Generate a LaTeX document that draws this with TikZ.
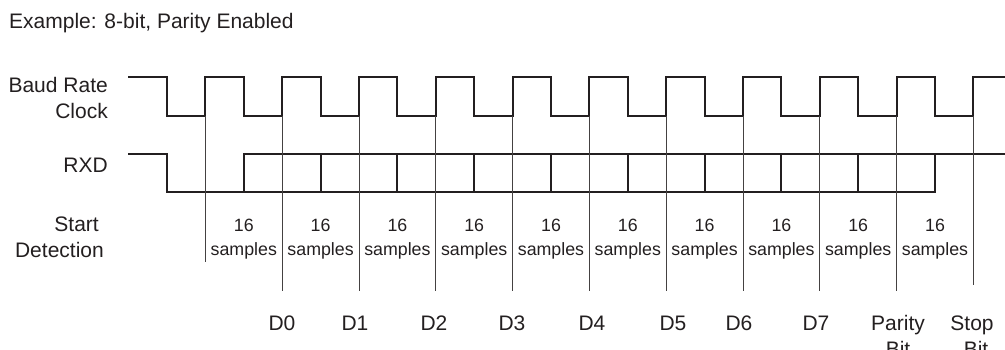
\documentclass[tikz,border=0pt]{standalone}
\usepackage{fontspec}
\setmainfont{Liberation Sans}
\usetikzlibrary{positioning}
\definecolor{ink}{HTML}{231F20}

\begin{document}
\begin{tikzpicture}[x=1pt, y=-1pt,
  wave/.style={draw=ink, line width=2pt},
  tick/.style={draw=ink!85, line width=1pt},
  lbl/.style={font=\fontsize{21}{26}\selectfont, text=ink, inner sep=0pt, anchor=base},
  smp/.style={font=\fontsize{17.8}{22}\selectfont, text=ink, inner sep=0pt, anchor=base},
]
  \clip (0,0) rectangle (1005,350);
  \node[lbl, anchor=base west] (title) at (9,29) {Example: 8-bit, Parity Enabled};

  % signal names
  \node[lbl, anchor=base east] (baud) at (108,93) {Baud Rate};
  \node[lbl, anchor=base east] (clk) at (108,119) {Clock};
  \node[lbl, anchor=base east] (rxd) at (108,173) {RXD};
  \node[lbl, anchor=base east] (start) at (99,232) {Start};
  \node[lbl, anchor=base east] (detect) at (104,258) {Detection};

  % baud rate clock
  \draw[wave] (128,77) foreach \k in {0,...,10} {
      -- ({167+76.8*\k},77) -- ({167+76.8*\k},116)
      -- ({205.4+76.8*\k},116) -- ({205.4+76.8*\k},77) } -- (1005,77);

  % RXD
  \draw[wave] (128,154) -- (167,154) -- (167,192) -- (935,192) -- (935,154);
  \draw[wave] (243.8,192) -- (243.8,154) -- (1005,154);
  \foreach \k in {2,...,9}
    \draw[wave] ({167+76.8*\k},154) -- ({167+76.8*\k},192);

  % sample points
  \draw[tick] (205.4,116) -- (205.4,262);
  \foreach \k in {1,...,9}
    \draw[tick] ({205.4+76.8*\k},116) -- ({205.4+76.8*\k},291);
  \draw[tick] (973.4,116) -- (973.4,285);

  % 16 samples per bit
  \foreach \k in {1,...,10} {
    \node[smp] (cnt\k) at ({167+76.8*\k},232) {16};
    \node[smp] (smp\k) at ({167+76.8*\k},255) {samples};
  }

  % bit names
  \foreach \lab/\xx in {D0/282, D1/355, D2/434, D3/512, D4/592, D5/673, D6/739, D7/816}
    \node[lbl] (\lab) at (\xx,330) {\lab};
  \node[lbl] (parity) at (898,330) {Parity};
  \node[lbl] (paritybit) at (898,356) {Bit};
  \node[lbl] (stop) at (972,330) {Stop};
  \node[lbl] (stopbit) at (976,356) {Bit};
\end{tikzpicture}
\end{document}
